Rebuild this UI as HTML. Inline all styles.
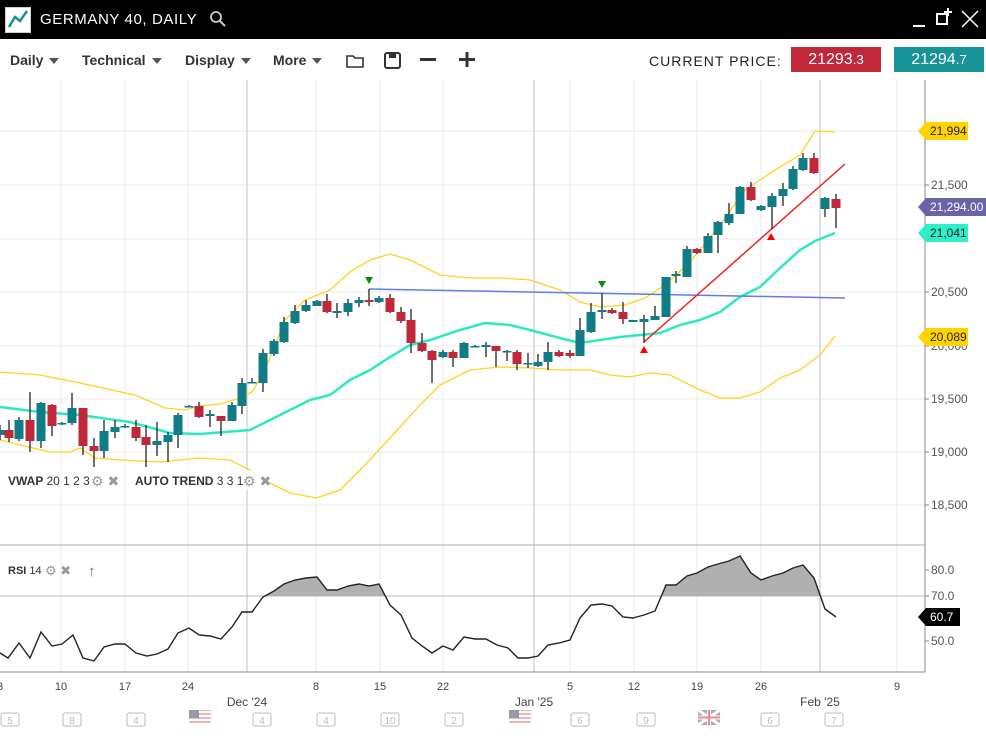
<!DOCTYPE html>
<html><head><meta charset="utf-8"><style>
body{margin:0;width:986px;height:736px;overflow:hidden;background:#fff;font-family:"Liberation Sans",sans-serif}
#top{position:absolute;left:0;top:0;width:986px;height:39px;background:#000}
#tb{position:absolute;left:0;top:39px;width:986px;height:41px;background:#fff}
.m{position:absolute;top:52px;font-size:14px;font-weight:bold;color:#333}
.m:after{content:"";display:inline-block;margin-left:6px;border-left:5px solid transparent;border-right:5px solid transparent;border-top:6px solid #555;vertical-align:middle}
svg{position:absolute;left:0;top:0}
</style></head><body>
<div id="top">
<div style="position:absolute;left:5px;top:7px;width:24px;height:24px;background:#fff;border:1px solid #ccc"></div>
<svg width="40" height="39"><polyline points="9,27 15,17 20,21 27,11" fill="none" stroke="#1a8f8f" stroke-width="2.5"/></svg>
<div style="position:absolute;left:40px;top:11px;color:#fff;font-size:15px;letter-spacing:0.6px">GERMANY 40, DAILY</div>
<svg width="986" height="39"><circle cx="216" cy="17" r="5" fill="none" stroke="#ccc" stroke-width="1.8"/><line x1="220" y1="21" x2="225" y2="26" stroke="#ccc" stroke-width="2"/>
<line x1="913" y1="26" x2="925" y2="26" stroke="#fff" stroke-width="2"/>
<rect x="937" y="14" width="10" height="10" fill="none" stroke="#fff" stroke-width="2"/><line x1="948" y1="8" x2="948" y2="16" stroke="#fff" stroke-width="2"/><line x1="944" y1="12" x2="952" y2="12" stroke="#fff" stroke-width="2"/>
<line x1="962" y1="11" x2="978" y2="27" stroke="#fff" stroke-width="1.5"/><line x1="978" y1="11" x2="962" y2="27" stroke="#fff" stroke-width="1.5"/></svg>
</div>
<div id="tb"></div>
<div class="m" style="left:10px">Daily</div>
<div class="m" style="left:82px">Technical</div>
<div class="m" style="left:185px">Display</div>
<div class="m" style="left:273px">More</div>
<div style="position:absolute;left:649px;top:53px;font-size:14px;letter-spacing:1px;color:#222">CURRENT PRICE:</div>
<div style="position:absolute;left:791px;top:47px;width:90px;height:25px;background:#c0283a;color:#fff;font-size:16px;line-height:25px;text-align:center">21293<small>.3</small></div>
<div style="position:absolute;left:894px;top:47px;width:90px;height:25px;background:#17939a;color:#fff;font-size:16px;line-height:25px;text-align:center">21294<small>.7</small></div>
<svg width="986" height="736" id="s" style="top:0">
<g fill="#333"><path d="M347 56h6l2 2h8v9h-16z" fill="none" stroke="#333" stroke-width="1.6"/><rect x="385" y="53" width="15" height="15" rx="2" fill="none" stroke="#333" stroke-width="2"/><rect x="389" y="54" width="7" height="4"/><rect x="420" y="58" width="16" height="3"/><rect x="459" y="58" width="16" height="3"/><rect x="465.5" y="52" width="3" height="15"/></g>
</svg>
<script>
const s=document.getElementById('s');let h='';
[131,185,239,292,346,399,452,505].forEach(y=>h+=`<line x1="0" x2="925" y1="${y}" y2="${y}" stroke="#ebebeb"/>`);
[[61,'10'],[125,'17'],[188,'24'],[316,'8'],[380,'15'],[443,'22'],[570,'5'],[634,'12'],[697,'19'],[761,'26'],[897,'9']].forEach(([x,t])=>{h+=`<line x1="${x}" x2="${x}" y1="80" y2="672" stroke="#ebebeb"/><text x="${x}" y="690" font-size="11" fill="#444" text-anchor="middle">${t}</text>`});
[[247,'Dec \'24'],[534,'Jan \'25'],[820,'Feb \'25']].forEach(([x,t])=>{h+=`<line x1="${x}" x2="${x}" y1="80" y2="672" stroke="#d6d6d6" stroke-width="1.5"/><text x="${x}" y="706" font-size="12" fill="#444" text-anchor="middle">${t}</text>`});
h+=`<text x="0" y="690" font-size="11" fill="#444" text-anchor="middle">3</text>`;
h+=`<line x1="0" x2="925" y1="545" y2="545" stroke="#aaa"/><line x1="0" x2="925" y1="596" y2="596" stroke="#bbb"/><line x1="0" x2="925" y1="672" y2="672" stroke="#888"/><line x1="925" x2="925" y1="80" y2="672" stroke="#888"/>`;
[[185,'21,500'],[292,'20,500'],[346,'20,000'],[399,'19,500'],[452,'19,000'],[505,'18,500']].forEach(([y,t])=>h+=`<line x1="925" x2="929" y1="${y}" y2="${y}" stroke="#888"/><text x="931" y="${y+4}" font-size="12" fill="#555">${t}</text>`);
[[570,'80.0'],[596,'70.0'],[641,'50.0']].forEach(([y,t])=>h+=`<line x1="925" x2="929" y1="${y}" y2="${y}" stroke="#888"/><text x="931" y="${y+4}" font-size="12" fill="#555">${t}</text>`);
const pl=(p,c,w)=>`<polyline points="${p}" fill="none" stroke="${c}" stroke-width="${w}"/>`;
h+=pl("0,372 40,375 80,383 135,395 165,408 185,410 200,406 220,404 240,398 252,392 265,370 285,320 305,300 330,290 350,272 370,260 390,254 410,260 440,275 470,278 500,278 530,280 560,290 580,302 600,307 625,305 645,298 665,285 690,262 720,225 745,190 775,170 800,155 815,131 835,132","#ffd21f",1.3);
h+=pl("0,440 20,445 50,452 70,452 80,448 95,458 120,460 160,462 200,458 230,460 250,470 270,483 290,493 316,498 340,490 365,465 390,438 420,405 440,385 470,370 500,367 530,368 560,370 590,370 610,375 630,377 650,373 670,375 700,390 720,398 740,398 760,392 780,378 800,370 820,355 835,336","#ffd21f",1.3);
h+=pl("0,407 40,412 80,415 130,422 170,433 200,434 250,430 270,420 290,410 310,400 330,395 350,380 370,370 390,357 410,345 430,340 460,330 485,323 510,325 530,330 560,338 580,343 600,340 620,337 640,335 660,333 680,325 700,320 720,312 740,297 760,287 780,268 800,250 815,241 835,233","#2ee8c0",2.5);
h+=pl("369,289 845,298","#5b7fe6",1.5)+pl("644,342 845,164","#f02020",1.5);
h+=`<polygon points="365,277 373,277 369,284" fill="#138a13"/><polygon points="598,281 606,281 602,288" fill="#138a13"/><polygon points="640,353 648,353 644,346" fill="#f00"/><polygon points="767,240 775,240 771,233" fill="#f00"/>`;
const C=[[0,425,430,435,440,0],[9,420,430,438,442,1],[19,417,420,439,441,0],[30,392,420,441,452,1],[41,402,403,441,448,0],[52,404,405,426,436,1],[62,422,423,424,425,0],[72,393,408,423,425,0],[83,408,408,446,455,1],[94,438,446,451,467,1],[104,420,431,451,458,0],[115,420,427,432,438,0],[125,424,426,427,428,0],[136,420,427,438,441,1],[146,425,437,445,467,1],[157,422,441,445,456,0],[168,432,435,442,462,0],[178,413,415,435,448,0],[189,405,406,407,407,0],[199,402,406,417,418,1],[210,410,414,416,427,0],[221,416,416,421,436,1],[232,402,405,421,421,0],[242,378,383,406,414,0],[252,378,382,383,383,0],[263,349,353,383,392,0],[274,339,341,354,356,0],[284,317,322,342,343,0],[295,305,311,323,324,0],[306,300,305,311,312,0],[317,300,301,306,306,0],[327,294,301,312,313,1],[337,303,311,313,318,0],[348,299,303,312,316,0],[359,297,300,303,307,0],[369,289,300,302,306,1],[379,296,298,302,303,0],[390,294,298,312,313,1],[401,307,312,321,323,1],[411,309,320,343,353,1],[422,333,343,351,352,1],[432,350,351,360,383,1],[443,350,352,357,358,0],[453,350,352,358,367,1],[464,342,343,358,358,0],[475,345,346,347,347,0],[486,342,345,347,357,0],[496,346,346,351,367,1],[507,350,351,352,361,0],[517,350,352,364,370,1],[528,353,363,364,368,0],[538,354,362,366,367,0],[548,342,352,362,370,0],[559,350,352,356,357,1],[570,350,353,356,358,1],[580,318,330,356,356,0],[591,303,312,332,333,0],[602,293,310,312,319,0],[612,308,310,313,314,1],[623,302,312,319,324,1],[633,320,320,322,322,0],[644,315,319,322,343,0],[655,306,316,320,320,0],[666,277,277,317,317,0],[676,271,274,276,283,0],[687,246,249,277,277,0],[697,248,249,253,254,1],[708,233,236,253,253,0],[718,221,222,235,253,0],[729,203,214,223,225,0],[740,186,187,214,214,0],[751,182,187,200,201,1],[761,205,206,210,211,0],[772,193,196,207,229,0],[783,183,189,196,206,0],[793,166,169,189,190,0],[803,153,158,170,171,0],[814,153,158,173,174,1],[825,197,198,209,217,0],[836,194,199,208,228,1]];
C.forEach(([x,ht,bt,bb,lo,r])=>{const c=r?'#c0283a':'#0f7c86';h+=`<line x1="${x}" x2="${x}" y1="${ht}" y2="${lo}" stroke="#222" stroke-width="1.3"/><rect x="${x-4.5}" y="${bt}" width="9" height="${Math.max(bb-bt,1.5)}" fill="${c}"/>`});
const R="0,653 8,658 19,643 30,658 41,632 52,646 62,644 73,635 83,658 94,661 104,647 115,644 125,644 136,653 147,656 157,654 168,649 178,633 189,628 199,635 210,636 221,639 232,627 242,612 252,612 263,597 274,591 284,584 295,580 306,578 317,577 327,590 337,590 348,586 359,584 369,586 379,584 390,605 401,615 412,638 422,646 432,653 443,646 453,650 464,637 475,639 486,639 497,645 508,648 518,658 528,658 538,656 548,645 559,643 570,640 580,618 591,605 602,604 612,606 623,617 633,618 644,615 655,611 666,585 676,585 687,576 697,573 708,567 718,564 729,561 740,556 751,573 761,580 772,576 783,573 793,568 803,565 814,578 825,609 836,617";
h+=`<clipPath id="cp"><rect x="0" y="540" width="925" height="56"/></clipPath><polygon points="0,596 ${R} 836,596" fill="#b0b0b0" clip-path="url(#cp)"/>`+pl(R,"#222",1.4);
const tag=(y,t,bg,fg,w)=>`<path d="M918 ${y} l8 -9 h${w} v18 h-${w}z" fill="${bg}"/><text x="930" y="${y+4}" font-size="12" fill="${fg}">${t}</text>`;
h+=tag(131,'21,994','#ffd400','#222',42)+tag(207,'21,294.00','#6a63a8','#fff',60)+tag(233,'21,041','#2ef0c8','#222',42)+tag(337,'20,089','#ffd400','#222',42)+tag(617,'60.7','#000','#fff',34);
h+=`<rect x="2" y="470" width="120" height="20" fill="#fff" opacity=".8"/><text x="8" y="485" font-size="12" font-weight="bold" fill="#333">VWAP <tspan font-weight="normal">20 1 2 3</tspan></text><text x="91" y="486" font-size="14" fill="#999">⚙ ✖</text>`;
h+=`<rect x="130" y="470" width="140" height="20" fill="#fff" opacity=".8"/><text x="135" y="485" font-size="12" font-weight="bold" fill="#333">AUTO TREND <tspan font-weight="normal">3 3 1</tspan></text><text x="243" y="486" font-size="14" fill="#999">⚙ ✖</text>`;
h+=`<text x="8" y="574" font-size="11" font-weight="bold" fill="#333">RSI <tspan font-weight="normal">14</tspan></text><text x="45" y="575" font-size="13" fill="#999">⚙ ✖</text><text x="88" y="576" font-size="15" fill="#666">↑</text>`;
[[10,'5'],[72,'8'],[136,'4'],[262,'4'],[326,'4'],[390,'10'],[454,'2'],[580,'6'],[646,'9'],[770,'6'],[834,'7']].forEach(([x,t])=>h+=`<rect x="${x-9}" y="713" width="18" height="13" rx="2" fill="none" stroke="#bbb"/><text x="${x}" y="724" font-size="10" fill="#bbb" text-anchor="middle">${t}</text>`);
[200,520].forEach(x=>{h+=`<rect x="${x-11}" y="710" width="22" height="15" fill="#f4b4b4"/>`;for(let i=0;i<4;i++)h+=`<rect x="${x-11}" y="${711+i*4}" width="22" height="2" fill="#fff"/>`;h+=`<rect x="${x-11}" y="710" width="10" height="8" fill="#99a"/>`});
h+=`<rect x="698" y="710" width="22" height="15" fill="#aab"/><path d="M698 710L720 725M720 710L698 725" stroke="#fff" stroke-width="3"/><path d="M709 710v15M698 717.5h22" stroke="#fff" stroke-width="4"/><path d="M709 710v15M698 717.5h22" stroke="#e88" stroke-width="2"/>`;
s.innerHTML+=h;
</script>
</body></html>
